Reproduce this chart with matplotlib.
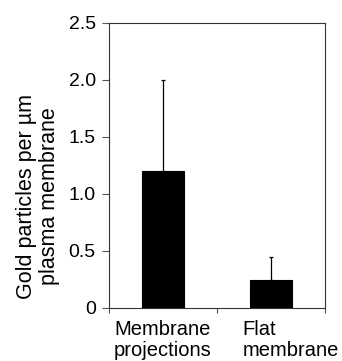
import matplotlib
matplotlib.use('Agg')
import matplotlib.pyplot as plt
import matplotlib.transforms as mtransforms
import numpy as np

plt.rcParams['font.family'] = ['Liberation Sans', 'DejaVu Sans']

# data
categories = ['Membrane\nprojections', 'Flat\nmembrane']
means = [1.2, 0.24]
upper_err = [0.8, 0.2]
y_ticks = [0, 0.5, 1.0, 1.5, 2.0, 2.5]
y_tick_labels = ['0', '0.5', '1.0', '1.5', '2.0', '2.5']

fig = plt.figure(figsize=(3.42, 3.61), dpi=100)
ax = fig.add_axes([0.3187, 0.148, 0.6316, 0.7895])

x = np.arange(len(categories))
ax.bar(x, means, width=0.39, color='black', edgecolor='black', linewidth=0.8)
ax.errorbar(x, means, yerr=[np.zeros(len(means)), upper_err], fmt='none',
            ecolor='black', elinewidth=0.9, capsize=1.2, capthick=0.9)

ax.set_xlim(-0.5, 1.5)
ax.set_ylim(0, 2.5)
ax.set_yticks(y_ticks)
ax.set_yticklabels(y_tick_labels, fontsize=14)

# category labels between boundary ticks (excel style)
ax.set_xticks(x)
ax.set_xticklabels(categories, fontsize=14.5, multialignment='left', linespacing=1.15)
ax.tick_params(axis='x', which='major', length=0, pad=9)
ax.set_xticks([-0.5, 0.5, 1.5], minor=True)
ax.tick_params(axis='x', which='minor', length=3.5, direction='out', width=0.8, color='#555555')
ax.tick_params(axis='y', length=5, direction='out', width=0.8, pad=4.5, color='#555555')

labels = ax.get_xticklabels()
off = mtransforms.ScaledTranslation(0.2, 0, fig.dpi_scale_trans)
labels[1].set_transform(labels[1].get_transform() + off)

for sp in ax.spines.values():
    sp.set_linewidth(0.8)
    sp.set_color('#333333')

ax.set_ylabel('Gold particles per µm\nplasma membrane', fontsize=15.5, linespacing=1.15)
ax.yaxis.set_label_coords(-0.225, 0.39)

fig.savefig('out.png', dpi=100, facecolor='white')
